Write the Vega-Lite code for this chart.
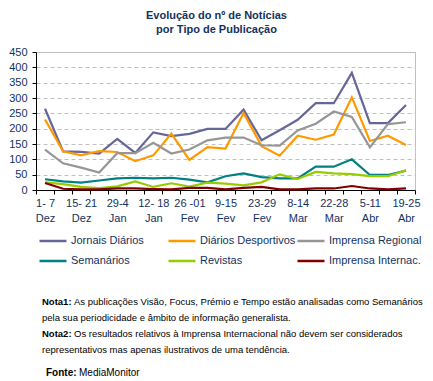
{
  "$schema": "https://vega.github.io/schema/vega-lite/v6.json",
  "background": "white",
  "padding": {"left": 8, "top": 9, "right": 0, "bottom": 0},
  "spacing": 73,
  "datasets": {
    "series": [
      {"semana":"1- 7|Dez","tipo":"Jornais Diários","n":265},{"semana":"8-14 Dez","tipo":"Jornais Diários","n":126},{"semana":"15- 21|Dez","tipo":"Jornais Diários","n":124},{"semana":"22-28 Dez","tipo":"Jornais Diários","n":119},{"semana":"29-4|Jan","tipo":"Jornais Diários","n":167},{"semana":"5-11 Jan","tipo":"Jornais Diários","n":121},{"semana":"12- 18|Jan","tipo":"Jornais Diários","n":188},{"semana":"19-25 Jan","tipo":"Jornais Diários","n":176},{"semana":"26 -01|Fev","tipo":"Jornais Diários","n":183},{"semana":"2-8 Fev","tipo":"Jornais Diários","n":199},{"semana":"9-15|Fev","tipo":"Jornais Diários","n":199},{"semana":"16-22 Fev","tipo":"Jornais Diários","n":262},{"semana":"23-29|Fev","tipo":"Jornais Diários","n":162},{"semana":"1-7 Mar","tipo":"Jornais Diários","n":195},{"semana":"8-14|Mar","tipo":"Jornais Diários","n":229},{"semana":"15-21 Mar","tipo":"Jornais Diários","n":283},{"semana":"22-28|Mar","tipo":"Jornais Diários","n":283},{"semana":"29-4 Abr","tipo":"Jornais Diários","n":382},{"semana":"5-11|Abr","tipo":"Jornais Diários","n":218},{"semana":"12-18 Abr","tipo":"Jornais Diários","n":218},{"semana":"19-25|Abr","tipo":"Jornais Diários","n":277},
      {"semana":"1- 7|Dez","tipo":"Diários Desportivos","n":230},{"semana":"8-14 Dez","tipo":"Diários Desportivos","n":126},{"semana":"15- 21|Dez","tipo":"Diários Desportivos","n":113},{"semana":"22-28 Dez","tipo":"Diários Desportivos","n":127},{"semana":"29-4|Jan","tipo":"Diários Desportivos","n":124},{"semana":"5-11 Jan","tipo":"Diários Desportivos","n":94},{"semana":"12- 18|Jan","tipo":"Diários Desportivos","n":113},{"semana":"19-25 Jan","tipo":"Diários Desportivos","n":184},{"semana":"26 -01|Fev","tipo":"Diários Desportivos","n":98},{"semana":"2-8 Fev","tipo":"Diários Desportivos","n":140},{"semana":"9-15|Fev","tipo":"Diários Desportivos","n":135},{"semana":"16-22 Fev","tipo":"Diários Desportivos","n":251},{"semana":"23-29|Fev","tipo":"Diários Desportivos","n":143},{"semana":"1-7 Mar","tipo":"Diários Desportivos","n":112},{"semana":"8-14|Mar","tipo":"Diários Desportivos","n":177},{"semana":"15-21 Mar","tipo":"Diários Desportivos","n":164},{"semana":"22-28|Mar","tipo":"Diários Desportivos","n":181},{"semana":"29-4 Abr","tipo":"Diários Desportivos","n":302},{"semana":"5-11|Abr","tipo":"Diários Desportivos","n":160},{"semana":"12-18 Abr","tipo":"Diários Desportivos","n":177},{"semana":"19-25|Abr","tipo":"Diários Desportivos","n":147},
      {"semana":"1- 7|Dez","tipo":"Imprensa Regional","n":132},{"semana":"8-14 Dez","tipo":"Imprensa Regional","n":87},{"semana":"15- 21|Dez","tipo":"Imprensa Regional","n":73},{"semana":"22-28 Dez","tipo":"Imprensa Regional","n":57},{"semana":"29-4|Jan","tipo":"Imprensa Regional","n":120},{"semana":"5-11 Jan","tipo":"Imprensa Regional","n":120},{"semana":"12- 18|Jan","tipo":"Imprensa Regional","n":154},{"semana":"19-25 Jan","tipo":"Imprensa Regional","n":119},{"semana":"26 -01|Fev","tipo":"Imprensa Regional","n":132},{"semana":"2-8 Fev","tipo":"Imprensa Regional","n":162},{"semana":"9-15|Fev","tipo":"Imprensa Regional","n":171},{"semana":"16-22 Fev","tipo":"Imprensa Regional","n":171},{"semana":"23-29|Fev","tipo":"Imprensa Regional","n":146},{"semana":"1-7 Mar","tipo":"Imprensa Regional","n":145},{"semana":"8-14|Mar","tipo":"Imprensa Regional","n":194},{"semana":"15-21 Mar","tipo":"Imprensa Regional","n":216},{"semana":"22-28|Mar","tipo":"Imprensa Regional","n":256},{"semana":"29-4 Abr","tipo":"Imprensa Regional","n":238},{"semana":"5-11|Abr","tipo":"Imprensa Regional","n":139},{"semana":"12-18 Abr","tipo":"Imprensa Regional","n":215},{"semana":"19-25|Abr","tipo":"Imprensa Regional","n":221},
      {"semana":"1- 7|Dez","tipo":"Semanários","n":35},{"semana":"8-14 Dez","tipo":"Semanários","n":28},{"semana":"15- 21|Dez","tipo":"Semanários","n":24},{"semana":"22-28 Dez","tipo":"Semanários","n":31},{"semana":"29-4|Jan","tipo":"Semanários","n":38},{"semana":"5-11 Jan","tipo":"Semanários","n":40},{"semana":"12- 18|Jan","tipo":"Semanários","n":38},{"semana":"19-25 Jan","tipo":"Semanários","n":40},{"semana":"26 -01|Fev","tipo":"Semanários","n":34},{"semana":"2-8 Fev","tipo":"Semanários","n":25},{"semana":"9-15|Fev","tipo":"Semanários","n":45},{"semana":"16-22 Fev","tipo":"Semanários","n":54},{"semana":"23-29|Fev","tipo":"Semanários","n":42},{"semana":"1-7 Mar","tipo":"Semanários","n":38},{"semana":"8-14|Mar","tipo":"Semanários","n":38},{"semana":"15-21 Mar","tipo":"Semanários","n":76},{"semana":"22-28|Mar","tipo":"Semanários","n":76},{"semana":"29-4 Abr","tipo":"Semanários","n":100},{"semana":"5-11|Abr","tipo":"Semanários","n":49},{"semana":"12-18 Abr","tipo":"Semanários","n":49},{"semana":"19-25|Abr","tipo":"Semanários","n":63},
      {"semana":"1- 7|Dez","tipo":"Revistas","n":25},{"semana":"8-14 Dez","tipo":"Revistas","n":19},{"semana":"15- 21|Dez","tipo":"Revistas","n":10},{"semana":"22-28 Dez","tipo":"Revistas","n":6},{"semana":"29-4|Jan","tipo":"Revistas","n":12},{"semana":"5-11 Jan","tipo":"Revistas","n":28},{"semana":"12- 18|Jan","tipo":"Revistas","n":10},{"semana":"19-25 Jan","tipo":"Revistas","n":22},{"semana":"26 -01|Fev","tipo":"Revistas","n":11},{"semana":"2-8 Fev","tipo":"Revistas","n":24},{"semana":"9-15|Fev","tipo":"Revistas","n":21},{"semana":"16-22 Fev","tipo":"Revistas","n":15},{"semana":"23-29|Fev","tipo":"Revistas","n":25},{"semana":"1-7 Mar","tipo":"Revistas","n":51},{"semana":"8-14|Mar","tipo":"Revistas","n":36},{"semana":"15-21 Mar","tipo":"Revistas","n":59},{"semana":"22-28|Mar","tipo":"Revistas","n":54},{"semana":"29-4 Abr","tipo":"Revistas","n":52},{"semana":"5-11|Abr","tipo":"Revistas","n":45},{"semana":"12-18 Abr","tipo":"Revistas","n":45},{"semana":"19-25|Abr","tipo":"Revistas","n":64},
      {"semana":"1- 7|Dez","tipo":"Imprensa Internac.","n":23},{"semana":"8-14 Dez","tipo":"Imprensa Internac.","n":4},{"semana":"15- 21|Dez","tipo":"Imprensa Internac.","n":2},{"semana":"22-28 Dez","tipo":"Imprensa Internac.","n":2},{"semana":"29-4|Jan","tipo":"Imprensa Internac.","n":5},{"semana":"5-11 Jan","tipo":"Imprensa Internac.","n":5},{"semana":"12- 18|Jan","tipo":"Imprensa Internac.","n":3},{"semana":"19-25 Jan","tipo":"Imprensa Internac.","n":2},{"semana":"26 -01|Fev","tipo":"Imprensa Internac.","n":7},{"semana":"2-8 Fev","tipo":"Imprensa Internac.","n":7},{"semana":"9-15|Fev","tipo":"Imprensa Internac.","n":2},{"semana":"16-22 Fev","tipo":"Imprensa Internac.","n":7},{"semana":"23-29|Fev","tipo":"Imprensa Internac.","n":10},{"semana":"1-7 Mar","tipo":"Imprensa Internac.","n":2},{"semana":"8-14|Mar","tipo":"Imprensa Internac.","n":2},{"semana":"15-21 Mar","tipo":"Imprensa Internac.","n":5},{"semana":"22-28|Mar","tipo":"Imprensa Internac.","n":5},{"semana":"29-4 Abr","tipo":"Imprensa Internac.","n":13},{"semana":"5-11|Abr","tipo":"Imprensa Internac.","n":5},{"semana":"12-18 Abr","tipo":"Imprensa Internac.","n":2},{"semana":"19-25|Abr","tipo":"Imprensa Internac.","n":5}
    ],
    "notas": [
      {"linha": 1, "destaque": "Nota1:", "texto": "As publicações Visão, Focus, Prémio e Tempo estão analisadas como Semanários"},
      {"linha": 2, "destaque": "", "texto": "pela sua periodicidade e âmbito de informação generalista."},
      {"linha": 3, "destaque": "Nota2:", "texto": "Os resultados relativos à Imprensa Internacional não devem ser considerados"},
      {"linha": 4, "destaque": "", "texto": "representativos mas apenas ilustrativos de uma tendência."}
    ],
    "fonte": [
      {"destaque": "Fonte:", "texto": "MediaMonitor"}
    ]
  },
  "vconcat": [
    {
      "width": 379,
      "height": 138,
      "view": {"stroke": "#C0C0C0"},
      "title": {
        "text": ["Evolução do nº de Notícias", "por Tipo de Publicação"],
        "font": "Liberation Sans",
        "fontSize": 11,
        "fontWeight": "bold",
        "color": "#13325E",
        "lineHeight": 14,
        "offset": 11,
        "anchor": "middle",
        "frame": "group",
        "dx": -9
      },
      "data": {"name": "series"},
      "mark": {"type": "line", "strokeWidth": 2.2},
      "encoding": {
        "x": {
          "field": "semana",
          "type": "ordinal",
          "sort": ["1- 7|Dez","8-14 Dez","15- 21|Dez","22-28 Dez","29-4|Jan","5-11 Jan","12- 18|Jan","19-25 Jan","26 -01|Fev","2-8 Fev","9-15|Fev","16-22 Fev","23-29|Fev","1-7 Mar","8-14|Mar","15-21 Mar","22-28|Mar","29-4 Abr","5-11|Abr","12-18 Abr","19-25|Abr"],
          "scale": {"type": "band", "paddingInner": 0, "paddingOuter": 0},
          "axis": {
            "title": null,
            "labelExpr": "isString(datum.value) && indexof(datum.value, '|') >= 0 ? split(datum.value, '|') : ''",
            "labelAngle": 0,
            "labelOverlap": false,
            "labelFont": "Liberation Sans",
            "labelFontSize": 11,
            "labelColor": "#13325E",
            "labelLineHeight": 15,
            "labelPadding": 3,
            "tickBand": "extent",
            "tickSize": 4,
            "tickColor": "black",
            "domainColor": "black",
            "grid": false
          }
        },
        "y": {
          "field": "n",
          "type": "quantitative",
          "scale": {"domain": [0, 450], "nice": false},
          "axis": {
            "title": null,
            "values": [0, 50, 100, 150, 200, 250, 300, 350, 400, 450],
            "labelFont": "Liberation Sans",
            "labelFontSize": 11,
            "labelColor": "#13325E",
            "labelPadding": 5,
            "tickSize": 4,
            "tickColor": "black",
            "domainColor": "black",
            "gridColor": "#C0C0C0",
            "gridDash": [4, 3]
          }
        },
        "color": {
          "field": "tipo",
          "type": "nominal",
          "scale": {
            "domain": ["Jornais Diários", "Diários Desportivos", "Imprensa Regional", "Semanários", "Revistas", "Imprensa Internac."],
            "range": ["#666699", "#FF9900", "#969696", "#008080", "#99CC00", "#800000"]
          },
          "legend": {
            "title": null,
            "orient": "none",
            "legendX": 2,
            "legendY": 174,
            "direction": "horizontal",
            "columns": 3,
            "gridAlign": "all",
            "symbolType": "stroke",
            "symbolSize": 729,
            "symbolStrokeWidth": 2.5,
            "labelFont": "Liberation Sans",
            "labelFontSize": 11,
            "labelColor": "#13325E",
            "labelOffset": 3,
            "rowPadding": -1,
            "columnPadding": -4
          }
        }
      }
    },
    {
      "spacing": 13,
      "vconcat": [
        {
          "width": 12,
          "height": 48,
          "view": {"stroke": null},
          "data": {"name": "notas"},
          "encoding": {
            "y": {"field": "linha", "type": "ordinal", "axis": null, "scale": {"type": "point", "padding": 0}}
          },
          "layer": [
            {
              "transform": [{"filter": "datum.destaque != ''"}],
              "mark": {"type": "text", "align": "left", "baseline": "middle", "font": "Liberation Sans", "fontSize": 9.5, "fontWeight": "bold", "color": "black"},
              "encoding": {"text": {"field": "destaque"}}
            },
            {
              "transform": [{"filter": "datum.destaque != ''"}],
              "mark": {"type": "text", "align": "left", "baseline": "middle", "font": "Liberation Sans", "fontSize": 9.5, "color": "black", "dx": 32},
              "encoding": {"text": {"field": "texto"}}
            },
            {
              "transform": [{"filter": "datum.destaque == ''"}],
              "mark": {"type": "text", "align": "left", "baseline": "middle", "font": "Liberation Sans", "fontSize": 9.5, "color": "black"},
              "encoding": {"text": {"field": "texto"}}
            }
          ]
        },
        {
          "width": 12,
          "height": 2,
          "view": {"stroke": null},
          "data": {"name": "fonte"},
          "layer": [
            {
              "mark": {"type": "text", "align": "left", "baseline": "middle", "font": "Liberation Sans", "fontSize": 10, "fontWeight": "bold", "color": "black", "dx": 4},
              "encoding": {"text": {"field": "destaque"}}
            },
            {
              "mark": {"type": "text", "align": "left", "baseline": "middle", "font": "Liberation Sans", "fontSize": 10, "color": "black", "dx": 37},
              "encoding": {"text": {"field": "texto"}}
            }
          ]
        }
      ]
    }
  ]
}
